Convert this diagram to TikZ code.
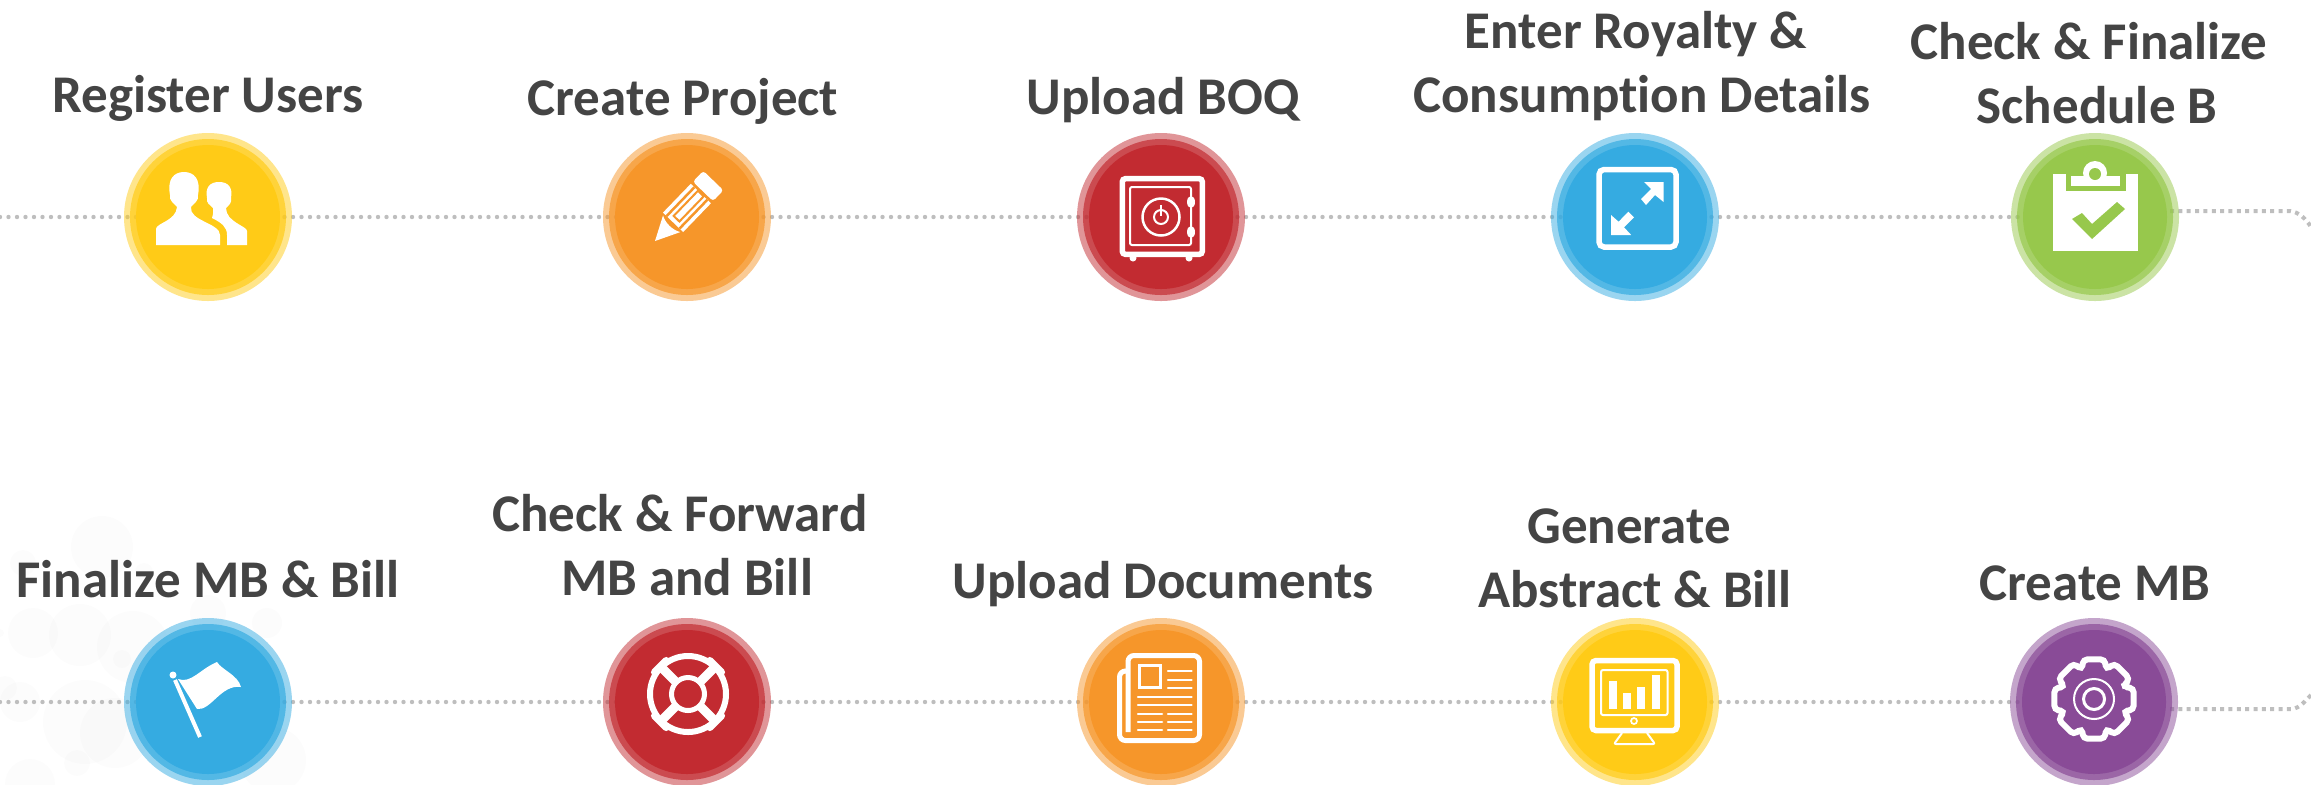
\documentclass[tikz,border=0pt]{standalone}
\usepackage{fontspec}
\setmainfont{Carlito}[Ligatures=CommonOff]
\usetikzlibrary{backgrounds}
\newlength{\du}
\setlength{\du}{0.5pt}
\definecolor{labelcolor}{rgb}{0.267, 0.267, 0.267}
\definecolor{dotcolor}{rgb}{0.745, 0.745, 0.745}
\definecolor{discyellow}{rgb}{1.000, 0.796, 0.090}
\definecolor{discorange}{rgb}{0.965, 0.588, 0.165}
\definecolor{discred}{rgb}{0.761, 0.169, 0.192}
\definecolor{discblue}{rgb}{0.208, 0.671, 0.882}
\definecolor{discgreen}{rgb}{0.592, 0.784, 0.298}
\definecolor{discpurple}{rgb}{0.537, 0.294, 0.592}
\tikzset{
  stepdisc/.style={circle,inner sep=0pt,outer sep=0pt,minimum size=144\du,fill=#1,
    preaction={draw=#1,draw opacity=.5,line width=24\du},
    preaction={draw=#1,draw opacity=.7,line width=12\du}},
  steplabel/.style={text=labelcolor,align=center,font=\fontsize{26.5}{32}\selectfont\bfseries},
  dotrun/.style={draw=dotcolor,line width=4.4\du,line cap=round,dash pattern=on 0pt off 8.5\du},
  squarerun/.style={draw=dotcolor,line width=4\du,dash pattern=on 4\du off 4.35\du},
  blob/.style={fill=black,fill opacity=.012},
  iconfill/.style={fill=white,draw=none},
  iconline/.style={draw=white,line width=#1\du,fill=none},
  iconline/.default=5
}
\begin{document}
\begin{tikzpicture}[even odd rule,x=\du,y=-\du]
\useasboundingbox (0,0) rectangle (2311,784);
\node[stepdisc=discyellow] (regusers) at (208,217) {};
\node[stepdisc=discorange] (crproject) at (687,217) {};
\node[stepdisc=discred] (upboq) at (1161,217) {};
\node[stepdisc=discblue] (royalty) at (1635,217) {};
\node[stepdisc=discgreen] (schedb) at (2095,217) {};
\node[stepdisc=discblue] (finalmb) at (208,702) {};
\node[stepdisc=discred] (forwardmb) at (687,702) {};
\node[stepdisc=discorange] (updocs) at (1161,702) {};
\node[stepdisc=discyellow] (abstract) at (1635,702) {};
\node[stepdisc=discpurple] (crmb) at (2094,702) {};
\node[steplabel] (regusersl) at (208,98) {Register Users};
\node[steplabel] (crprojectl) at (683,101) {Create Project};
\node[steplabel] (upboql) at (1163,100) {Upload BOQ};
\node[steplabel] (royaltyl) at (1642,66) {Enter Royalty \&\hspace*{12\du}\\Consumption Details};
\node[steplabel] (schedbl) at (2091,73) {Check \& Finalize\hspace*{4\du}\\\hspace*{12\du}Schedule B};
\node[steplabel] (finalmbl) at (208,579) {Finalize MB \& Bill};
\node[steplabel] (forwardmbl) at (680,545) {Check \& Forward\\\hspace*{14\du}MB and Bill};
\node[steplabel] (updocsl) at (1163,584) {Upload Documents};
\node[steplabel] (abstractl) at (1635,558) {Generate\hspace*{12\du}\\Abstract \& Bill};
\node[steplabel] (crmbl) at (2095,583) {Create MB};
\coordinate (topin) at (0,217);
\coordinate (topout) at (2170,211);
\coordinate (topbend) at (2290,211);
\coordinate (topedge) at (2311,227);
\coordinate (botin) at (0,702);
\coordinate (botout) at (2170,709);
\coordinate (botbend) at (2292,709);
\coordinate (botedge) at (2311,695);
\begin{scope}[on background layer]
\foreach \bx/\by/\br in {102/547/31,23/563/13,144/572/9,208/613/18,80/635/31,133/647/36,122/659/9,20/702/20,5/688/12,85/722/42,115/733/35,77/763/13,267/623/15,273/760/33,33/633/25,0/633/4,30/784/25}
  \fill[blob] (\bx,\by) circle (\br);
\draw[dotrun] (topin) -- (regusers.center);
\draw[dotrun] (regusers.center) -- (crproject.center);
\draw[dotrun] (crproject.center) -- (upboq.center);
\draw[dotrun] (upboq.center) -- (royalty.center);
\draw[dotrun] (royalty.center) -- (schedb.center);
\draw[squarerun] (topout) -- (topbend) .. controls (2299,212) and (2306,219) .. (topedge);
\draw[dotrun] (botin) -- (finalmb.center);
\draw[dotrun] (finalmb.center) -- (forwardmb.center);
\draw[dotrun] (forwardmb.center) -- (updocs.center);
\draw[dotrun] (updocs.center) -- (abstract.center);
\draw[dotrun] (abstract.center) -- (crmb.center);
\draw[squarerun] (botout) -- (botbend) .. controls (2300,708) and (2305,701) .. (botedge);
\end{scope}
\begin{scope}[shift={(regusers.center)}]
\fill[iconfill] (-52,28) -- (-52,12) .. controls (-52,6) and (-32,4) .. (-31,-10) .. controls (-34,-14) and (-39,-16) .. (-38,-22) .. controls (-41,-38) and (-34,-45) .. (-24,-45) .. controls (-14,-45) and (-7,-38) .. (-10,-22) .. controls (-9,-16) and (-14,-14) .. (-17,-10) .. controls (-19,4) and (12,6) .. (12,18) -- (12,28) -- cycle;
\fill[iconfill] (19,28) -- (39,28) -- (39,14) .. controls (39,9) and (18,5) .. (18,-9) .. controls (21,-12) and (24,-14) .. (23,-19) .. controls (25,-30) and (20,-35) .. (11,-35) .. controls (2,-35) and (-3,-30) .. (-1,-19) .. controls (-2,-14) and (2,-12) .. (5,-9) .. controls (6,-3) and (4,-1) .. (4,1) .. controls (14,6) and (19,10) .. (19,18) -- cycle;
\end{scope}
\begin{scope}[shift={(crproject.center)},shift={(-32,24)},rotate=46]
\fill[iconfill] (0,0) -- (24,-12) .. controls (20,-5) and (20,5) .. (24,12) -- cycle;
\fill[iconfill] (26,-14) rectangle (66,14);
\draw[discorange,line width=2.5\du] (26,-9) -- (66,-9) (26,9) -- (66,9);
\draw[discorange,line width=2\du] (31,-4) rectangle (66,4);
\fill[iconfill,rounded corners=3\du] (69,-14) rectangle (84,14);
\end{scope}
\begin{scope}[shift={(upboq.center)}]
\draw[iconline=5.5,rounded corners=3\du] (-38.7,-38.3) rectangle (41.3,37.3);
\draw[iconline=2,rounded corners=2\du] (-31,-30) rectangle (30,28);
\draw[iconline=2.5] (0,0) circle (18.5);
\draw[iconline=2] (0,0) circle (7);
\draw[iconline=2.5] (0,-12) -- (0,-1);
\fill[iconfill] (30,-15) ellipse (4 and 6) (30,15) ellipse (4 and 6) (-28,41) circle (3.5) (28,41) circle (3.5);
\end{scope}
\begin{scope}[shift={(royalty.center)}]
\draw[iconline=5.5,rounded corners=5\du] (-36,-47.5) rectangle (41,30);
\fill[iconfill] (9,-35) -- (28.6,-35) -- (28.6,-15) -- (20,-22) -- (11,-12) -- (6,-18) -- (16,-28) -- cycle;
\fill[iconfill] (-24,18) -- (-24,-2) -- (-16.4,4.7) -- (-6.7,-5.3) -- (-1,0.3) -- (-11,10.3) -- (-3.8,18) -- cycle;
\end{scope}
\begin{scope}[shift={(schedb.center)}]
\fill[iconfill] (-42,-43) rectangle (43,34);
\fill[discgreen] (-29,-43) rectangle (31,-26);
\fill[iconfill] (-24,-41) rectangle (25,-31);
\fill[iconfill] (0,-44) circle (12);
\fill[discgreen] (0,-43) circle (6);
\fill[discgreen] (-23,2) -- (-13,-4) -- (-3,7) -- (22,-15) -- (30,-8) -- (-3,22) -- cycle;
\end{scope}
\begin{scope}[shift={(finalmb.center)}]
\fill[iconfill] (-35,-27) circle (3.5);
\draw[iconline=4] (-33,-22) -- (-8,35);
\fill[iconfill] (-30,-23) .. controls (-17,-18) and (-8,-33) .. (9,-40) .. controls (14,-32) and (30,-27) .. (33,-15) .. controls (13,-18) and (3,9) .. (-11,7) -- cycle;
\end{scope}
\begin{scope}[shift={(forwardmb.center)},shift={(1,-8)}]
\draw[iconline=6] (0,0) circle (38);
\draw[iconline=5] (0,0) circle (16.5);
\foreach \ang in {45,135,225,315} {
  \draw[iconline=9] (\ang:17) -- (\ang:39);
  \draw[iconline=7,line cap=round] (\ang-12:40) -- (\ang+12:40);
}
\end{scope}
\begin{scope}[shift={(updocs.center)}]
\draw[iconline=5,rounded corners=6\du] (-33,30) -- (-33,-46.5) -- (38.5,-46.5) -- (38.5,38.5) -- (-41.5,38.5) -- (-41.5,-31) -- (-33,-31);
\draw[iconline=3.5] (-21.5,-36.5) rectangle (-0.5,-14.5);
\draw[iconline=2.5,line cap=round] (7,-31) -- (30.5,-31) (7,-22) -- (30.5,-22) (7,-14) -- (30.5,-14) (-23,-5) -- (30.5,-5) (-23,3) -- (30.5,3);
\foreach \rowy in {12,20,28}
  \draw[iconline=2.5,line cap=round] (-23,\rowy) -- (1,\rowy) (7,\rowy) -- (30.5,\rowy);
\end{scope}
\begin{scope}[shift={(abstract.center)}]
\draw[iconline=5.5,rounded corners=4\du] (-43,-41.5) rectangle (42,28.5);
\draw[iconline=2,rounded corners=2\du] (-34,-32) rectangle (32.5,13);
\foreach \bx/\by in {-26/-21,-12/-9,2/-15,17/-27}
  \fill[iconfill] (\bx,\by) rectangle (\bx+8,7);
\draw[iconline=1.7] (-1,19) circle (3);
\draw[iconline=2,rounded corners=2\du] (-13,31) -- (-21,42) -- (20,42) -- (12,31);
\end{scope}
\begin{scope}[shift={(crmb.center)},shift={(0,-3)}]
\draw[iconline=6,rounded corners=4\du] (-22.5:32) \foreach \ang in {0,45,...,315} {-- (\ang-15:41) -- (\ang+15:41) -- (\ang+22.5:32)} -- cycle;
\draw[iconline=2] (0,0) circle (20);
\draw[iconline=3] (0,0) circle (10.5);
\end{scope}
\end{tikzpicture}
\end{document}
